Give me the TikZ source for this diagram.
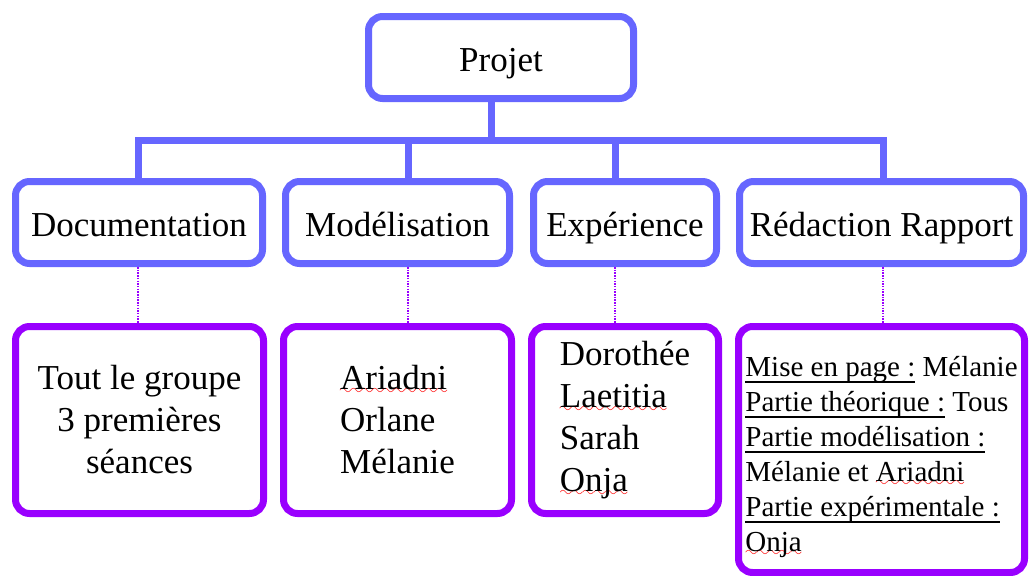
\documentclass[tikz,border=0pt]{standalone}
\usepackage{fontspec}
\setmainfont{Liberation Serif}
\definecolor{bleuBox}{RGB}{102,102,255}
\definecolor{violetBox}{RGB}{153,0,255}
\font\wavefnt=lasy10 at 16pt
\newcommand\souligne[1]{\leavevmode\setbox0\hbox{#1}\rlap{\lower6pt\hbox{\vrule width\wd0 height1.6pt depth0pt}}\box0\relax}
\newcommand\faute[1]{\leavevmode\setbox0\hbox{#1}\rlap{\lower5pt\hbox to\wd0{\color{red}\xleaders\hbox{\wavefnt\char58}\hfil}}\box0\relax}
\begin{document}
\begin{tikzpicture}[x=1pt,y=-1pt,
	tache/.style={draw=bleuBox,line width=7pt,rounded corners=14pt,fill=white,inner sep=0pt,
		minimum height=82pt,text height=35pt,text depth=7pt,font=\fontsize{35}{42}\selectfont},
	equipe/.style={draw=violetBox,line width=7pt,rounded corners=14pt,fill=white,inner sep=0pt,
		minimum height=187pt,font=\fontsize{35}{42}\selectfont},
	lien/.style={draw=bleuBox,line width=7pt},
	pointille/.style={draw=violetBox,line width=2.5pt,dash pattern=on 1.5pt off 1.2pt}]
	\useasboundingbox(0,0)rectangle(1029,576);
	% niveau 1 et 2
	\node[tache,minimum width=265pt](projet)at(501,57.5){Projet};
	\node[tache,minimum width=247pt](doc)at(139,222.5){Documentation};
	\node[tache,minimum width=224pt](mod)at(397.5,222.5){Modélisation};
	\node[tache,minimum width=183pt](exp)at(625,222.5){Expérience};
	\node[tache,minimum width=284pt](red)at(881.5,222.5){Rédaction Rapport};
	% niveau 3
	\node[equipe,minimum width=248pt,align=center](docP)at(139.5,420){Tout le groupe\\3 premières\\séances};
	\node[equipe,minimum width=228pt,align=left](modP)at(397.5,420){\faute{Ariadni}\\Orlane\\Mélanie};
	\node[equipe,minimum width=187pt,align=left](expP)at(625,420){Dorothée\\\faute{Laetitia}\\Sarah\\\faute{Onja}};
	\node[equipe,minimum width=286pt,minimum height=246pt,align=left,font=\fontsize{29}{35}\selectfont](redP)at(881.5,449.5){%
		\rule{0pt}{36pt}\souligne{Mise en page :} Mélanie\\\souligne{Partie théorique :} Tous\\\souligne{Partie modélisation :}\\
		Mélanie et \faute{Ariadni}\\\souligne{Partie expérimentale :}\\\faute{Onja}};
	% liens
	\coordinate(tronc)at(491,140);
	\coordinate(bD)at(138,140);
	\coordinate(bM)at(408,140);
	\coordinate(bE)at(615,140);
	\coordinate(bR)at(883,140);
	\draw[lien](projet.south-|tronc)--(tronc);
	\draw[lien](doc.north-|bD)--(bD)--(bR)--(red.north-|bR);
	\draw[lien](bM)--(mod.north-|bM);
	\draw[lien](bE)--(exp.north-|bE);
	\draw[pointille](doc.south-|bD)--(docP.north-|bD);
	\draw[pointille](mod.south-|bM)--(modP.north-|bM);
	\draw[pointille](exp.south-|bE)--(expP.north-|bE);
	\draw[pointille](red.south-|bR)--(redP.north-|bR);
\end{tikzpicture}
\end{document}
